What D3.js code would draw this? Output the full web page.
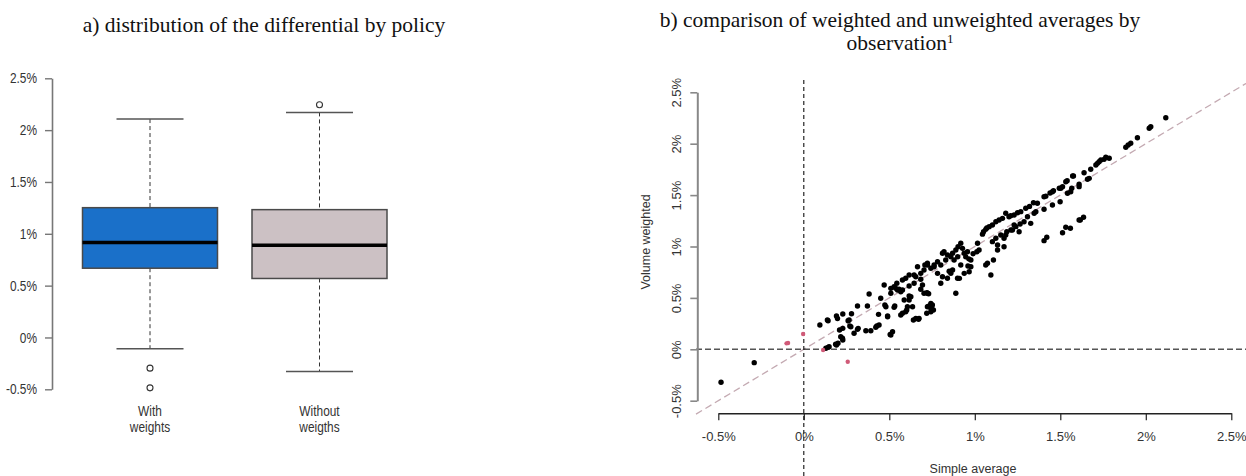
<!DOCTYPE html>
<html><head><meta charset="utf-8">
<script src="https://cdn.jsdelivr.net/npm/d3@7"></script>
<style>html,body{margin:0;padding:0;background:#fff;}svg{display:block;}</style>
</head><body>
<svg id="chart" width="1246" height="476"></svg>
<script>
// ---- Panel a) boxplot data (values in %) ----
const categories = ["With weights", "Without weigths"];
const catLine1 = ["With", "Without"];
const catLine2 = ["weights", "weigths"];
const whiskerLow = [-0.108, -0.329];
const q1 = [0.668, 0.569];
const median = [0.915, 0.889];
const q3 = [1.252, 1.233];
const whiskerHigh = [2.107, 2.171];
const outliers = [[-0.296, -0.486], [2.245]];
const boxFill = ["#1a70c9", "#ccc1c4"];
const yTicksA = [-0.5, 0, 0.5, 1, 1.5, 2, 2.5];

// ---- Panel b) scatter data: [simple average, volume weighted] in % ----
const xTicksB = [-0.5, 0, 0.5, 1, 1.5, 2, 2.5];
const yTicksB = [-0.5, 0, 0.5, 1, 1.5, 2, 2.5];
const redPoints = [[-0.101,0.058],[-0.092,0.061],[-0.004,0.149],[0.113,-0.007],[0.257,-0.121]];
const blackPoints = [
[-0.484,-0.32],[-0.29,-0.13],
[0.094,0.236],[0.142,0.278],[0.191,0.324],[0.197,0.30],[0.228,0.343],[0.279,0.346],[0.259,0.278],[0.209,0.188],[0.228,0.204],[0.216,0.123],[0.228,0.09],[0.191,0.042],[0.142,0.019],[0.129,0.01],[0.148,0.025],[0.186,0.05],[0.2,0.06],[0.269,0.227],[0.314,0.194],[0.294,0.156],[0.363,0.181],[0.392,0.181],[0.421,0.214],[0.44,0.236],[0.509,0.139],[0.519,0.171],[0.505,0.145],[0.314,0.421],[0.372,0.421],[0.382,0.538],[0.437,0.34],[0.45,0.496],[0.47,0.625],[0.474,0.431],[0.49,0.324],[0.509,0.545],[0.532,0.421],[0.538,0.593],[0.544,0.642],[0.557,0.584],[0.567,0.56],[0.587,0.48],[0.596,0.366],[0.616,0.518],[0.636,0.414],[0.641,0.285],[0.671,0.292],[0.645,0.642],[0.655,0.706],[0.684,0.584],[0.684,0.681],[0.708,0.82],[0.723,0.545],[0.73,0.54],[0.743,0.447],[0.747,0.408],[0.758,0.382],[0.723,0.82],[0.762,0.803],[0.782,0.739],[0.138,0.285],[0.265,0.285],[0.226,0.107],[0.275,0.22],[0.318,0.204],[0.427,0.227],[0.49,0.317],[0.48,0.414],[0.528,0.408],[0.567,0.334],[0.602,0.382],[0.548,0.577],[0.577,0.674],[0.577,0.577],[0.616,0.616],[0.616,0.48],[0.509,0.593],
[0.918,1.031],[0.902,0.998],[0.889,0.966],[0.928,0.982],[0.938,0.934],[0.947,0.901],[0.957,0.949],[0.87,0.934],[0.86,0.901],[0.879,0.869],[0.9,0.9],[0.84,0.917],[0.82,0.949],[0.83,0.869],[0.801,0.82],[0.782,0.852],[0.762,0.82],[0.743,0.788],[0.723,0.837],[0.703,0.771],[0.684,0.739],[0.665,0.803],[0.645,0.723],[0.616,0.723],[0.596,0.691],[0.528,0.609],[0.674,0.301],[0.743,0.399],[0.752,0.431],[0.703,0.545],[0.72,0.55],[0.694,0.625],[0.626,0.512],[0.801,0.642],[0.811,0.706],[0.84,0.691],[0.86,0.739],[0.889,0.545],[0.899,0.691],[0.91,0.69],[0.938,0.739],[0.967,0.755],[0.977,0.803],[0.96,0.81],[0.918,0.82],[0.87,0.771],[0.85,0.76],[1.012,0.949],[1.025,0.966],[0.99,0.93],[1.074,0.837],[0.977,0.869],[0.965,0.88],[0.811,0.934],[0.723,0.414],[0.73,0.42],[0.743,0.366],[0.719,0.35],[0.606,0.414],[0.577,0.35],[0.655,0.3],
[1.016,1.031],[1.051,1.144],[1.064,1.167],[1.084,1.193],[1.103,1.209],[1.123,1.241],[1.142,1.258],[1.162,1.274],[1.181,1.323],[1.23,1.306],[1.25,1.329],[1.269,1.339],[1.298,1.372],[1.343,1.426],[1.366,1.42],[1.405,1.484],[1.46,1.543],[1.503,1.566],[1.532,1.63],[1.577,1.686],[1.54,1.64],[1.572,1.686],[1.639,1.718],[1.678,1.751],[1.708,1.793],[1.717,1.809],[1.727,1.825],[1.737,1.841],[1.756,1.848],[1.766,1.868],[1.786,1.858],[1.883,1.965],[1.897,1.987],[1.912,2.004],[1.951,2.058],[2.02,2.15],[2.029,2.165],[2.117,2.253],[1.045,1.12],[1.07,1.18],[1.2,1.29],[1.21,1.3],[1.32,1.39],[1.415,1.49],[1.44,1.52],
[1.61,1.582],[1.561,1.533],[1.499,1.436],[1.454,1.404],[1.405,1.362],[1.357,1.339],[1.308,1.29],[1.288,1.241],[1.265,1.219],[1.24,1.193],[1.22,1.16],[1.259,1.144],[1.187,1.144],[1.152,1.112],[1.123,1.08],[1.171,1.08],[1.133,1.015],[1.103,1.047],[1.171,0.998],[1.133,0.966],[1.109,0.869],[1.064,0.82],[1.094,0.723],[1.659,1.654],[1.669,1.663],[1.61,1.605],[1.567,1.566],[1.513,1.582],[1.494,1.566],[1.542,1.518],[1.454,1.533],[1.347,1.323],[1.327,1.225],[1.23,1.209],[1.211,1.16],[1.181,1.112],
[1.405,1.057],[1.421,1.09],[1.513,1.134],[1.532,1.187],[1.559,1.177],[1.61,1.258],[1.617,1.258],[1.636,1.284]
];

const pct = v => v + "%";
const svg = d3.select("#chart");
const sans = "'Liberation Sans', Arial, sans-serif";
const serif = "'Liberation Serif', 'Times New Roman', serif";

// ===== Titles =====
svg.append("text").attr("x", 264).attr("y", 32).attr("text-anchor", "middle")
  .style("font-family", serif).style("font-size", "21.5px").attr("fill", "#111")
  .text("a) distribution of the differential by policy");
svg.append("text").attr("x", 900).attr("y", 27).attr("text-anchor", "middle")
  .style("font-family", serif).style("font-size", "21.5px").attr("fill", "#111")
  .text("b) comparison of weighted and unweighted averages by");
const t2 = svg.append("text").attr("x", 900).attr("y", 50).attr("text-anchor", "middle")
  .style("font-family", serif).style("font-size", "21.5px").attr("fill", "#111");
t2.append("tspan").text("observation");
t2.append("tspan").attr("dy", -7).style("font-size", "13px").text("1");

// ===== Panel a =====
const yA = d3.scaleLinear().domain([-0.5, 2.5]).range([389.3, 78.3]);
const xA = d3.scalePoint().domain(categories).range([150, 319.5]);
const boxW = 135, capW = 67;
const axA = svg.append("g").attr("transform", "translate(52,0)")
  .call(d3.axisLeft(yA).tickValues(yTicksA).tickFormat(pct).tickSize(7).tickSizeOuter(0));
axA.select(".domain").attr("stroke", "#777").attr("stroke-width", 1.6);
axA.selectAll(".tick line").attr("stroke", "#777").attr("stroke-width", 1.4);
axA.selectAll(".tick text").attr("x", -15 / 0.82).attr("transform", "scale(0.82,1)")
  .style("font-family", sans).style("font-size", "14.5px").attr("fill", "#333");

const boxes = svg.append("g").selectAll("g").data(categories).join("g");
boxes.each(function(c, i) {
  const g = d3.select(this), cx = xA(c);
  g.append("line").attr("x1", cx).attr("x2", cx).attr("y1", yA(whiskerHigh[i])).attr("y2", yA(q3[i]))
    .attr("stroke", "#333").attr("stroke-dasharray", "4,3");
  g.append("line").attr("x1", cx).attr("x2", cx).attr("y1", yA(q1[i])).attr("y2", yA(whiskerLow[i]))
    .attr("stroke", "#333").attr("stroke-dasharray", "4,3");
  [whiskerHigh[i], whiskerLow[i]].forEach(v => g.append("line")
    .attr("x1", cx - capW / 2).attr("x2", cx + capW / 2).attr("y1", yA(v)).attr("y2", yA(v))
    .attr("stroke", "#555").attr("stroke-width", 1.5));
  g.append("rect").attr("x", cx - boxW / 2).attr("width", boxW)
    .attr("y", yA(q3[i])).attr("height", yA(q1[i]) - yA(q3[i]))
    .attr("fill", boxFill[i]).attr("stroke", "#4a4a4a").attr("stroke-width", 1.5);
  g.append("line").attr("x1", cx - boxW / 2).attr("x2", cx + boxW / 2)
    .attr("y1", yA(median[i])).attr("y2", yA(median[i])).attr("stroke", "#000").attr("stroke-width", 3.5);
  outliers[i].forEach(v => g.append("circle").attr("cx", cx).attr("cy", yA(v)).attr("r", 3)
    .attr("fill", "#fff").attr("stroke", "#333").attr("stroke-width", 1.1));
  [catLine1[i], catLine2[i]].forEach((s, k) => g.append("text")
    .attr("transform", `translate(${cx},${416 + k * 16}) scale(0.82,1)`)
    .attr("text-anchor", "middle").style("font-family", sans).style("font-size", "14.5px")
    .attr("fill", "#333").text(s));
});

// ===== Panel b =====
const xB = d3.scaleLinear().domain([-0.5, 2.5]).range([718.3, 1231.3]);
const yB = d3.scaleLinear().domain([-0.5, 2.5]).range([400.7, 92.3]);
const plotL = 696, plotR = 1246, plotT = 80, plotB = 413.3;

// reference lines
const lo = xB.invert(plotL), hi = yB.invert(plotT);
svg.append("line").attr("x1", xB(lo)).attr("y1", yB(lo)).attr("x2", xB(hi)).attr("y2", yB(hi))
  .attr("stroke", "#c4aab2").attr("stroke-width", 1.3).attr("stroke-dasharray", "7,4");
svg.append("line").attr("x1", plotL).attr("x2", plotR).attr("y1", yB(0)).attr("y2", yB(0))
  .attr("stroke", "#555").attr("stroke-width", 1.5).attr("stroke-dasharray", "6,3");
svg.append("line").attr("x1", xB(0)).attr("x2", xB(0)).attr("y1", plotT).attr("y2", 476)
  .attr("stroke", "#111").attr("stroke-width", 1.1).attr("stroke-dasharray", "4,3");

// axes
const axBx = svg.append("g").attr("transform", `translate(0,${plotB})`)
  .call(d3.axisBottom(xB).tickValues(xTicksB).tickFormat(pct).tickSize(7).tickSizeOuter(0).tickPadding(11));
axBx.select(".domain").attr("stroke", "#222").attr("stroke-width", 1.4);
axBx.selectAll(".tick line").attr("stroke", "#222").attr("stroke-width", 1.2);
axBx.selectAll(".tick text").style("font-family", sans).style("font-size", "13px").attr("fill", "#333");

const axBy = svg.append("g").attr("transform", "translate(697.3,0)")
  .call(d3.axisLeft(yB).tickValues(yTicksB).tickFormat(pct).tickSize(7).tickSizeOuter(0));
axBy.select(".domain").attr("stroke", "#888").attr("stroke-width", 2);
axBy.selectAll(".tick line").attr("stroke", "#888").attr("stroke-width", 1.6);
axBy.selectAll(".tick text").attr("transform", "rotate(-90)").attr("x", 0).attr("y", -16).attr("dy", 0)
  .attr("text-anchor", "middle").style("font-family", sans).style("font-size", "13px").attr("fill", "#333");

svg.append("text").attr("x", 973).attr("y", 472.5).attr("text-anchor", "middle")
  .style("font-family", sans).style("font-size", "12.5px").attr("fill", "#333").text("Simple average");
svg.append("text").attr("transform", "translate(650,242) rotate(-90)").attr("text-anchor", "middle")
  .style("font-family", sans).style("font-size", "12.5px").attr("fill", "#333").text("Volume weighted");

// points
svg.append("g").selectAll("circle").data(blackPoints).join("circle")
  .attr("cx", d => xB(d[0])).attr("cy", d => yB(d[1])).attr("r", 2.7).attr("fill", "#000");
svg.append("g").selectAll("circle").data(redPoints).join("circle")
  .attr("cx", d => xB(d[0])).attr("cy", d => yB(d[1])).attr("r", 2.2).attr("fill", "#d05a78");
</script>
</body></html>
